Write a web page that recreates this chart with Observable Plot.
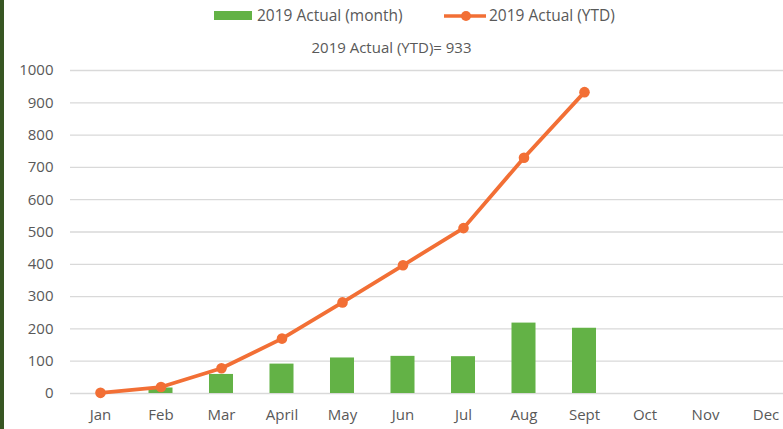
<!DOCTYPE html>
<html>
<head>
<meta charset="utf-8">
<script src="https://cdn.jsdelivr.net/npm/d3@7"></script>
<script src="https://cdn.jsdelivr.net/npm/@observablehq/plot@0.6"></script>
<style>
  html, body { margin: 0; padding: 0; background: #fff; overflow: hidden; }
  body { font-family: "Open Sans", sans-serif; color: #595959; width: 783px; height: 429px; position: relative; }
  #strip { position: absolute; left: 0; top: 0; width: 4px; height: 429px; background: #375623; z-index: 2; }
  #header { position: relative; height: 60px; width: 783px; }
  .lbl { position: absolute; font-size: 15.5px; line-height: 20px; white-space: nowrap; color: #595959; }
  #chart { position: absolute; left: 0; top: 60px; }
</style>
</head>
<body>
<div id="strip"></div>
<div id="header">
  <div id="sw1" style="position:absolute;left:214px;top:11px;width:38px;height:9px;"></div>
  <div class="lbl" id="l1" style="left:257px;top:5px;"></div>
  <svg style="position:absolute;left:442px;top:8px;" width="46" height="16">
    <line id="sw2line" x1="2" x2="44" y1="8" y2="8" stroke-width="3.5"></line>
    <circle id="sw2dot" cx="24" cy="8" r="5"></circle>
  </svg>
  <div class="lbl" id="l2" style="left:489px;top:5px;"></div>
  <div class="lbl" id="sub" style="left:0;width:783px;text-align:center;top:37px;font-size:15px;"></div>
</div>
<div id="chart"></div>
<script>
const months = ["Jan","Feb","Mar","April","May","Jun","Jul","Aug","Sept","Oct","Nov","Dec"];
const monthActual = [0, 17, 59, 91, 110, 115, 114, 218, 202];
const ytdActual = [2, 20, 78, 170, 282, 397, 512, 730, 933];
const yTicks = [0,100,200,300,400,500,600,700,800,900,1000];
const seriesNames = ["2019 Actual (month)", "2019 Actual (YTD)"];
const subtitleText = "2019 Actual (YTD)= 933";

const green = "#63b246";
const orange = "#f26f35";

document.getElementById("sw1").style.background = green;
document.getElementById("l1").textContent = seriesNames[0];
document.getElementById("l2").textContent = seriesNames[1];
document.getElementById("sw2line").setAttribute("stroke", orange);
document.getElementById("sw2dot").setAttribute("fill", orange);
document.getElementById("sub").textContent = subtitleText;

const barData = monthActual.map((v, i) => ({month: months[i], value: v}));
const lineData = ytdActual.map((v, i) => ({month: months[i], value: v}));

const chart = Plot.plot({
  width: 783,
  height: 369,
  marginTop: 10,
  marginBottom: 36,
  marginLeft: 70,
  marginRight: 0,
  style: { fontFamily: "Open Sans", fontSize: "15px", color: "#595959", background: "transparent" },
  x: { type: "band", domain: months, range: [69.75, 795.75], paddingInner: 0.603, paddingOuter: 0.3015, round: false, label: null },
  y: { domain: [0, 1000], label: null },
  marks: [
    Plot.gridY(yTicks, { stroke: "#d9d9d9", strokeOpacity: 1, strokeWidth: 1.3 }),
    Plot.axisY(yTicks, { tickSize: 0, tickPadding: 17, label: null, fill: "#595959", tickFormat: d3.format("d") }),
    Plot.axisX({ tickSize: 0, tickPadding: 16, label: null, fill: "#595959" }),
    Plot.barY(barData, { x: "month", y: "value", fill: green }),
    Plot.line(lineData, { x: "month", y: "value", stroke: orange, strokeWidth: 3.8 }),
    Plot.dot(lineData, { x: "month", y: "value", fill: orange, r: 5.3 })
  ]
});
document.getElementById("chart").appendChild(chart);
</script>
</body>
</html>
